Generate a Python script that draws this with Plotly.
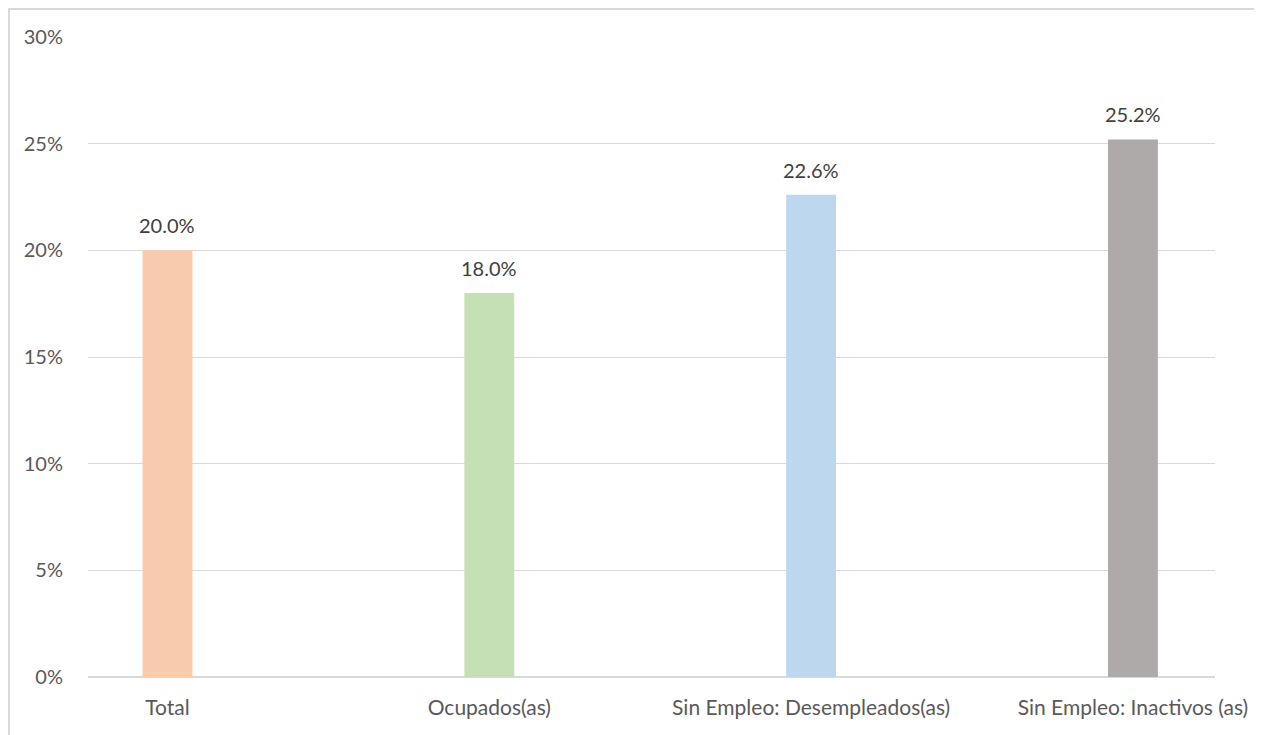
import plotly.graph_objects as go

categories = ["Total", "Ocupados(as)", "Sin Empleo: Desempleados(as)", "Sin Empleo: Inactivos (as)"]
values = [20.0, 18.0, 22.6, 25.2]
colors = ["#F8CBAD", "#C5E0B4", "#BDD7EE", "#AEAAAA"]
y_ticks = [0, 5, 10, 15, 20, 25, 30]

FONT = "Lato, Open Sans, sans-serif"
W, H = 1262, 735
ml, mr, mt, mb = 80, 55, 29, 66
pw, ph = W - ml - mr, H - mt - mb

fig = go.Figure()
fig.add_trace(go.Bar(
    x=list(range(len(categories))), y=values,
    marker=dict(color=colors, line=dict(width=0)),
    width=0.155,
    hoverinfo="x+y",
))

for i, v in enumerate(values):
    fig.add_annotation(
        x=i, y=v, text=f"{v:.1f}%", showarrow=False,
        xanchor="center", yanchor="bottom", yshift=11,
        font=dict(family=FONT, size=20, color="#404040"),
    )

# chart-area frame: only left and top edges fall inside the window
bx0 = (1 - ml) / pw
bx1 = (W - ml) / pw
by0 = -mb / ph
by1 = (H - 1 - mb) / ph
frame_path = f"M {bx0},{by0} L {bx0},{by1} L {bx1},{by1}"

fig.update_layout(
    width=W, height=H,
    margin=dict(l=ml, r=mr, t=mt, b=mb, autoexpand=False),
    paper_bgcolor="white", plot_bgcolor="white",
    showlegend=False,
    font=dict(family=FONT, size=20, color="#595959"),
    xaxis=dict(
        range=[-0.247, 3.255],
        tickmode="array", tickvals=list(range(len(categories))), ticktext=categories,
        showgrid=False, zeroline=False, showline=False,
        ticks="", ticklabelstandoff=16,
        tickfont=dict(family=FONT, size=21, color="#595959"),
    ),
    yaxis=dict(
        range=[0, 30],
        tickmode="array", tickvals=y_ticks, ticktext=[f"{t}%" for t in y_ticks],
        showgrid=True, gridcolor="#D9D9D9", gridwidth=1,
        zeroline=True, zerolinecolor="#D9D9D9", zerolinewidth=2,
        showline=False, ticks="", ticklabelstandoff=24,
        tickfont=dict(family=FONT, size=20, color="#595959"),
    ),
    shapes=[dict(
        type="path", xref="paper", yref="paper", path=frame_path,
        line=dict(color="#D9D9D9", width=2), layer="below",
    )],
)

fig.write_html("out.html", post_script="document.body.style.overflow='hidden';")
